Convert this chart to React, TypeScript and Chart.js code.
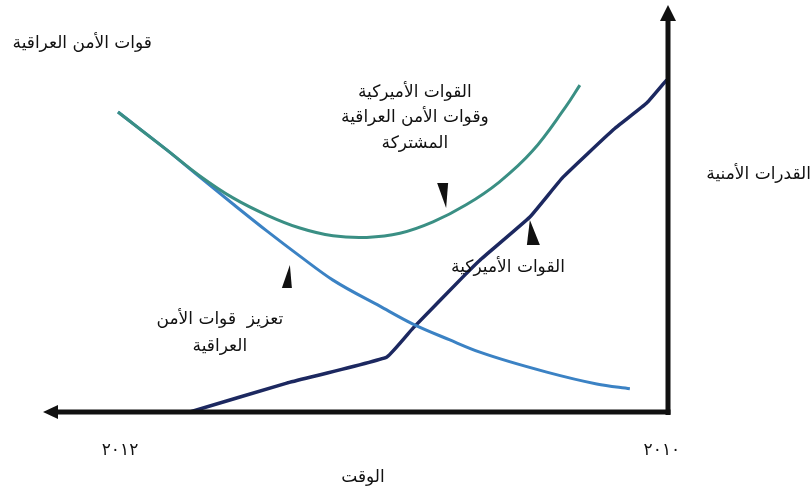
import React, { useEffect, useRef } from "react";
import { Chart, registerables } from "chart.js";

Chart.register(...registerables);

// Time runs right-to-left (0 = 2010 at the vertical axis, 100 = far left), capability 0..100
const usTime = [76.5, 61.0, 45.0, 40.8, 32.8, 30.1, 22.1, 16.8, 8.8, 3.4, 0.2];
const usCap = [0, 7.1, 13.5, 20.6, 33.2, 37.3, 47.9, 57.7, 69.3, 75.9, 81.6];

const iqTime = [88.0, 80.2, 74.9, 69.6, 64.2, 58.9, 53.6, 46.1, 40.8, 34.9, 30.1, 19.4, 11.4, 6.1];
const iqCap = [73.7, 64.4, 57.7, 51.1, 44.5, 38.3, 32.4, 26.0, 21.6, 17.7, 14.7, 9.8, 6.9, 5.7];

const jointTime = [88.0, 80.2, 74.9, 69.6, 64.2, 58.9, 53.6, 48.2, 42.9, 37.6, 32.3, 27.0, 21.7, 16.4, 14.1];
const jointCap = [73.7, 64.4, 58.0, 52.6, 48.4, 45.2, 43.3, 42.9, 43.9, 46.7, 50.9, 56.5, 64.1, 74.9, 80.3];

const yearLabels = ["٢٠١٢", "٢٠١٠"];
const yearTimes = [88.0, 1.3];

const yTitle = "قوات الأمن العراقية";
const capTitle = "القدرات الأمنية";
const timeTitle = "الوقت";

const jointLabel = ["القوات الأميركية", "وقوات الأمن العراقية", "المشتركة"];
const usLabel = ["القوات الأميركية"];
const iqLabel = ["تعزيز  قوات الأمن", "العراقية"];

const pts = (xs: number[], ys: number[]) => xs.map((x, i) => ({ x, y: ys[i] }));

const FONT = "17px 'DejaVu Sans', 'Liberation Sans', sans-serif";

const decor = {
  id: "decor",
  afterDatasetsDraw(chart: any) {
    const { ctx, chartArea, scales } = chart;
    const { left, right, top, bottom } = chartArea;
    const xs = scales.x;
    const ys = scales.y;
    ctx.save();
    // axes
    ctx.strokeStyle = "#111";
    ctx.fillStyle = "#111";
    ctx.lineWidth = 5;
    ctx.lineCap = "butt";
    ctx.beginPath();
    ctx.moveTo(right, bottom + 3);
    ctx.lineTo(right, top + 12);
    ctx.stroke();
    ctx.beginPath();
    ctx.moveTo(right, top);
    ctx.lineTo(right - 8, top + 16);
    ctx.lineTo(right + 8, top + 16);
    ctx.closePath();
    ctx.fill();
    ctx.beginPath();
    ctx.moveTo(right + 2.5, bottom);
    ctx.lineTo(left + 10, bottom);
    ctx.stroke();
    ctx.beginPath();
    ctx.moveTo(left, bottom);
    ctx.lineTo(left + 15, bottom - 7);
    ctx.lineTo(left + 15, bottom + 7);
    ctx.closePath();
    ctx.fill();

    // pointer wedges
    const wedge = (tx: number, ty: number, shape: number[][]) => {
      const px = xs.getPixelForValue(tx);
      const py = ys.getPixelForValue(ty);
      ctx.beginPath();
      ctx.moveTo(px, py);
      shape.forEach(([dx, dy]) => ctx.lineTo(px + dx, py + dy));
      ctx.closePath();
      ctx.fill();
    };
    wedge(35.5, 50.1, [[-9, -25], [2, -25]]);
    wedge(22.1, 47.2, [[-3, 25], [10, 25]]);
    wedge(60.5, 36.1, [[-8, 23], [2, 23]]);

    // texts
    ctx.fillStyle = "#111";
    ctx.font = FONT;
    ctx.direction = "rtl";
    ctx.textBaseline = "middle";
    const block = (lines: string[], tx: number, ty: number, lh: number) => {
      const px = xs.getPixelForValue(tx);
      const py = ys.getPixelForValue(ty);
      ctx.textAlign = "center";
      lines.forEach((l, i) => ctx.fillText(l, px, py + i * lh));
    };
    block(jointLabel, 40.5, 78.6, 25.5);
    block(usLabel, 25.6, 35.4, 25);
    block(iqLabel, 71.7, 22.6, 27);

    ctx.textAlign = "right";
    ctx.fillText(yTitle, 152, 44);
    ctx.fillText(capTitle, 811, 175);
    ctx.textAlign = "center";
    ctx.fillText(timeTitle, 363, 478);

    ctx.direction = "ltr";
    (ctx as any).letterSpacing = "5px";
    yearLabels.forEach((t, i) => {
      ctx.fillText(t, xs.getPixelForValue(yearTimes[i]) + 2, 451);
    });
    ctx.restore();
  },
};

export default function App() {
  const ref = useRef<HTMLCanvasElement | null>(null);
  useEffect(() => {
    if (!ref.current) return;
    const chart = new Chart(ref.current, {
      type: "line",
      data: {
        datasets: [
          {
            data: pts(jointTime, jointCap),
            borderColor: "#3a8f84",
            borderWidth: 3,
            tension: 0.4,
            pointRadius: 0,
          },
          {
            data: pts(iqTime, iqCap),
            borderColor: "#3b82c4",
            borderWidth: 3,
            cubicInterpolationMode: "monotone",
            pointRadius: 0,
          },
          {
            data: pts(usTime, usCap),
            borderColor: "#1c2860",
            borderWidth: 3.5,
            tension: 0.1,
            pointRadius: 0,
          },
        ],
      },
      options: {
        animation: false,
        responsive: true,
        maintainAspectRatio: false,
        layout: { padding: { left: 43, right: 144, top: 5, bottom: 79 } },
        scales: {
          x: { type: "linear", reverse: true, min: 0, max: 100, display: false },
          y: { type: "linear", min: 0, max: 100, display: false },
        },
        plugins: { legend: { display: false }, tooltip: { enabled: false } },
      },
      plugins: [decor],
    });
    return () => chart.destroy();
  }, []);
  return (
    <div style={{ position: "fixed", left: 0, top: 0, width: 812, height: 491, background: "#fff" }}>
      <canvas ref={ref} />
    </div>
  );
}
